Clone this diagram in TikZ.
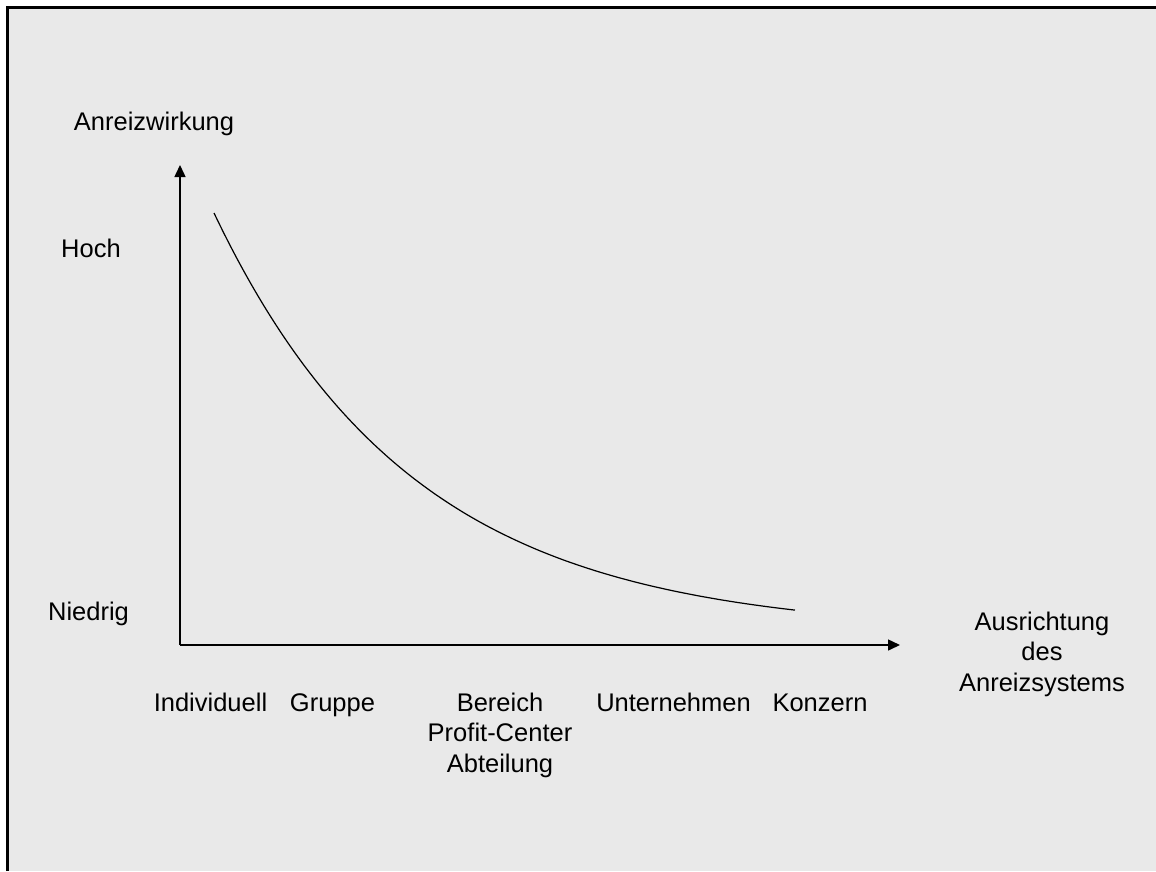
\documentclass[tikz,border=0pt]{standalone}
\usepackage{fontspec}
\setmainfont{Liberation Sans}
\usetikzlibrary{arrows.meta}
\definecolor{panel}{RGB}{233,233,233}
\tikzset{
  lbl/.style={font=\fontsize{25.5}{30.5}\selectfont, text=black, inner sep=0pt, anchor=base, align=center},
  axis/.style={line width=1.5pt, -{Triangle[length=12pt,width=11pt]}},
  curve/.style={line width=1.2pt}
}
\begin{document}
\begin{tikzpicture}[x=1pt,y=-1pt]
  % page and panel
  \fill[white] (0,0) rectangle (1156,871);
  \useasboundingbox (0,0) rectangle (1156,871);
  \fill[panel] (7.5,7.5) rectangle (1156,871);
  \draw[line width=3pt] (7.5,871) -- (7.5,7.5) -- (1156,7.5);

  % axes
  \coordinate (origin) at (180,645);
  \coordinate (ytip) at (180,165);
  \coordinate (xtip) at (900,645);
  \draw[axis] (origin) -- (ytip);
  \draw[axis] (origin) -- (xtip);

  % incentive effect curve
  \draw[curve] plot[domain=214:795, samples=80, smooth] (\x, {633-420*exp(-0.005*(\x-214))});

  % axis titles (multi-line nodes sit on the baseline of their last line)
  \node[lbl] (ytitle) at (154,130) {Anreizwirkung};
  \node[lbl] (xtitle) at (1042,691) {Ausrichtung\\des\\Anreizsystems};

  % vertical scale labels
  \node[lbl] (hoch) at (91,257) {Hoch};
  \node[lbl] (niedrig) at (88.5,620) {Niedrig};

  % horizontal scale labels
  \node[lbl] (indiv) at (210.5,711) {Individuell};
  \node[lbl] (gruppe) at (332.5,711) {Gruppe};
  \node[lbl] (bereich) at (500,772) {Bereich\\Profit-Center\\Abteilung};
  \node[lbl] (untern) at (673.5,711) {Unternehmen};
  \node[lbl] (konzern) at (820,711) {Konzern};
\end{tikzpicture}
\end{document}
